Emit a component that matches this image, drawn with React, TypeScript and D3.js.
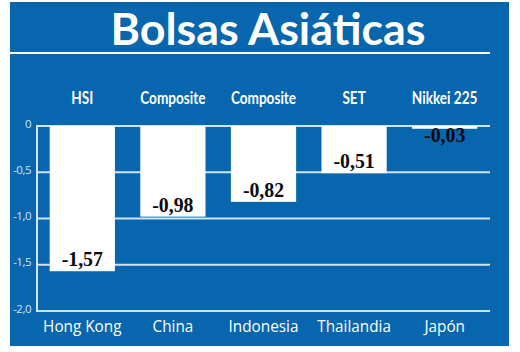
import React from "react";
import * as d3 from "d3";

const countries = ["Hong Kong", "China", "Indonesia", "Thailandia", "Japón"];
const indices = ["HSI", "Composite", "Composite", "SET", "Nikkei 225"];
const values = [-1.57, -0.98, -0.82, -0.51, -0.03];
const valueLabels = ["-1,57", "-0,98", "-0,82", "-0,51", "-0,03"];
const yTicks = [0, -0.5, -1.0, -1.5, -2.0];
const yTickLabels = ["0", "-0,5", "-1,0", "-1,5", "-2,0"];
const title = "Bolsas Asiáticas";

const W = 520;
const H = 352;
const BLUE = "#0766ae";
const LINE = "#cfe3f4";

export default function App() {
  const x = d3
    .scaleBand<string>()
    .domain(countries)
    .range([37, 490])
    .paddingInner(0.28)
    .paddingOuter(0.14);
  const y = d3.scaleLinear().domain([0, -2]).range([126, 311]);
  const bw = x.bandwidth();

  return (
    <svg
      width={W}
      height={H}
      style={{ position: "absolute", left: 0, top: 0, display: "block" }}
    >
      <rect x={0} y={0} width={W} height={H} fill="#fff" />
      <rect x={10} y={2} width={499} height={344} fill={BLUE} />
      <text
        x={268}
        y={45}
        textAnchor="middle"
        fill="#fff"
        fontFamily="Lato, 'Open Sans', sans-serif"
        fontWeight={700}
        fontSize={44}
        textLength={315}
        lengthAdjust="spacingAndGlyphs"
      >
        {title}
      </text>
      <line x1={10} x2={490} y1={53} y2={53} stroke="#fff" strokeWidth={2} />

      {yTicks.map((t, i) => (
        <g key={i}>
          <line x1={37} x2={490} y1={y(t)} y2={y(t)} stroke={LINE} strokeWidth={2} />
          <text
            x={31}
            y={y(t)}
            dy="0.15em"
            textAnchor="end"
            fill={LINE}
            fontFamily="'Open Sans', sans-serif"
            fontSize={11.5}
            letterSpacing={-0.5}
          >
            {yTickLabels[i]}
          </text>
        </g>
      ))}
      <line x1={37} x2={37} y1={y(0) - 1} y2={y(-2) + 1} stroke={LINE} strokeWidth={2} />

      {countries.map((c, i) => {
        const x0 = x(c)!;
        const cx = x0 + bw / 2;
        const v = values[i];
        const small = y(v) - y(0) < 20;
        return (
          <g key={c}>
            <rect x={x0} y={y(0)} width={bw} height={y(v) - y(0)} fill="#fff" />
            <text
              x={cx}
              y={small ? y(v) + 13 : y(v) - 5}
              textAnchor="middle"
              fill="#0a0a14"
              fontFamily="'Liberation Serif', serif"
              fontWeight={700}
              fontSize={22}
              transform={`translate(${cx},0) scale(0.9,1) translate(${-cx},0)`}
            >
              {valueLabels[i]}
            </text>
            <text
              x={cx}
              y={104}
              textAnchor="middle"
              fill="#fff"
              fontFamily="Lato, sans-serif"
              fontWeight={700}
              fontSize={17}
              transform={`translate(${cx},0) scale(0.8,1) translate(${-cx},0)`}
            >
              {indices[i]}
            </text>
            <text
              x={cx}
              y={332}
              textAnchor="middle"
              fill="#fff"
              fontFamily="'Open Sans', sans-serif"
              fontSize={17}
              transform={`translate(${cx},0) scale(0.9,1) translate(${-cx},0)`}
            >
              {c}
            </text>
          </g>
        );
      })}
    </svg>
  );
}
